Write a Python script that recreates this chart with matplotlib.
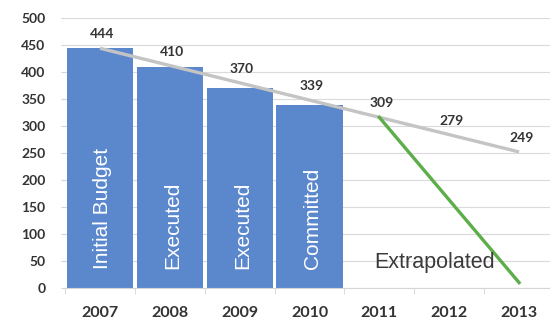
import matplotlib
matplotlib.use("Agg")
import matplotlib.pyplot as plt
import numpy as np

years = ["2007", "2008", "2009", "2010", "2011", "2012", "2013"]
bar_years = ["2007", "2008", "2009", "2010"]
bar_values = [444, 410, 370, 339]
bar_texts = ["Initial Budget", "Executed", "Executed", "Committed"]
trend_values = [444, 412, 380, 348, 316, 284, 252]
label_values = [444, 410, 370, 339, 309, 279, 249]
extrap_years = ["2011", "2013"]
extrap_values = [316, 10]
yticks = [0, 50, 100, 150, 200, 250, 300, 350, 400, 450, 500]

W, H = 550, 323
fig = plt.figure(figsize=(W / 100, H / 100), dpi=100)
ax = fig.add_axes([65 / W, 35 / H, 489 / W, 270 / H])

x = np.arange(len(years))
idx = {y: i for i, y in enumerate(years)}

bar_x = [idx[y] for y in bar_years]
ax.bar(bar_x, bar_values, width=0.945, color="#5B87CD", zorder=2)

ax.plot(x, trend_values, color="#C4C4C4", lw=2.4, zorder=3, solid_capstyle="butt")
ax.plot([idx[y] for y in extrap_years], extrap_values, color="#5DAE4B", lw=2.4, zorder=4)

tick_font = dict(family=["Lato", "DejaVu Sans"], weight="bold", color="#333333")

for i, v in enumerate(label_values):
    ax.annotate(str(v), (x[i], trend_values[i]), xytext=(1.5, 10), textcoords="offset points",
                ha="center", va="center", fontsize=10, **tick_font, zorder=5)

for xi, t in zip(bar_x, bar_texts):
    ax.text(xi + 0.04, 36, t, rotation=90, ha="center", va="bottom", color="white",
            fontsize=15, family=["Liberation Sans", "DejaVu Sans"], zorder=5)

ax.text(idx["2011"] - 0.07, 37, "Extrapolated", ha="left", va="baseline", color="#3a3a3a",
        fontsize=15.5, family=["Liberation Sans", "DejaVu Sans"], zorder=5)

ax.set_xlim(-0.5, len(years) - 0.5)
ax.set_ylim(0, 500)
ax.set_yticks(yticks)
ax.set_yticklabels([str(v) for v in yticks], fontsize=10, **tick_font)
ax.set_xticks(x)
ax.set_xticklabels(years, fontsize=11.5, **tick_font)
ax.set_xticks(np.arange(len(years) + 1) - 0.5, minor=True)

ax.grid(axis="y", color="#DADADA", lw=0.8, zorder=0)
for s in ["top", "right", "left"]:
    ax.spines[s].set_visible(False)
ax.spines["bottom"].set_color("#D5D5D5")
ax.spines["bottom"].set_linewidth(0.8)

ax.tick_params(axis="y", length=3, color="#D5D5D5", pad=11)
ax.tick_params(axis="x", which="major", length=0, pad=13)
ax.tick_params(axis="x", which="minor", length=4, color="#D5D5D5")

fig.savefig("out.png", dpi=100)
